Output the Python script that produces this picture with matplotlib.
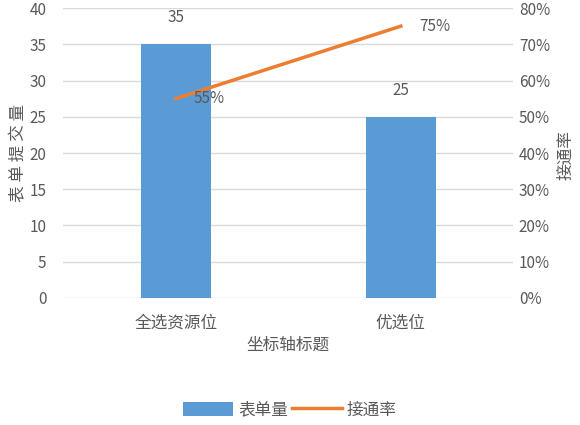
import matplotlib
matplotlib.use('Agg')
import matplotlib.pyplot as plt
from matplotlib.ticker import PercentFormatter

plt.rcParams['font.family'] = ['Noto Sans CJK SC', 'DejaVu Sans']

categories = ['全选资源位', '优选位']
form_counts = [35, 25]
connect_rate = [0.55, 0.75]

bar_color = '#5B9BD5'
line_color = '#ED7D31'
text_color = '#595959'
grid_color = '#D9D9D9'

fig = plt.figure(figsize=(5.8, 4.25), dpi=100)
ax = fig.add_axes([0.109, 0.299, 0.776, 0.682])
ax2 = ax.twinx()

x = list(range(len(categories)))
ax.bar(x, form_counts, width=0.31, color=bar_color, label='表单量', zorder=2)
ax2.plot(x, connect_rate, color=line_color, linewidth=2.5, label='接通率', zorder=3)

for xi, v in zip(x, form_counts):
    ax.annotate(f'{v}', (xi, v), xytext=(0, 13), textcoords='offset points',
                ha='center', va='bottom', fontsize=11, color=text_color)
for xi, v in zip(x, connect_rate):
    ax2.annotate(f'{v:.0%}', (xi, v), xytext=(13, 0), textcoords='offset points',
                 ha='left', va='center', fontsize=11, color=text_color)

ax.set_xlim(-0.5, 1.5)
ax.set_ylim(0, 40)
ax.set_yticks(range(0, 41, 5))
ax2.set_ylim(0, 0.8)
ax2.set_yticks([i / 10 for i in range(0, 9)])
ax2.yaxis.set_major_formatter(PercentFormatter(1.0, decimals=0))

ax.set_xticks(x)
ax.set_xticklabels(categories)
ax.grid(axis='y', color=grid_color, linewidth=1, zorder=0)
ax.set_axisbelow(True)

for a in (ax, ax2):
    for s in a.spines.values():
        s.set_visible(False)
    a.tick_params(length=0, labelsize=11, colors=text_color)
ax.tick_params(axis='x', pad=12, labelsize=12)
ax.tick_params(axis='y', pad=12)
ax2.tick_params(axis='y', pad=4)

ax.set_xlabel('坐标轴标题', fontsize=12, color=text_color, labelpad=4)
ax.set_ylabel('表 单 提 交 量', fontsize=12, color=text_color, labelpad=2)
fig.text(0.975, 0.635, '接通率', fontsize=12, color=text_color,
         rotation=90, ha='center', va='center')

h1, l1 = ax.get_legend_handles_labels()
h2, l2 = ax2.get_legend_handles_labels()
fig.legend(h1 + h2, l1 + l2, loc='center', bbox_to_anchor=(0.5, 0.035), ncol=2,
           frameon=False, fontsize=12, labelcolor=text_color,
           handlelength=3.0, handleheight=1.0, handletextpad=0.3, columnspacing=0.2)

fig.savefig('out.png', dpi=100)
